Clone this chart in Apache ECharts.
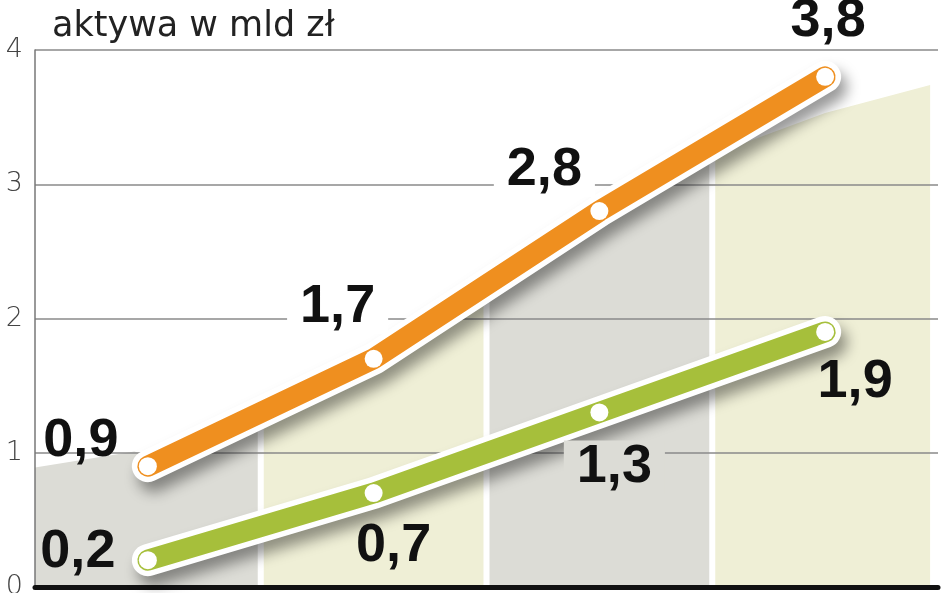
<!DOCTYPE html>
<html>
<head>
<meta charset="utf-8">
<script src="https://cdn.jsdelivr.net/npm/echarts@6/dist/echarts.min.js"></script>
<style>
  html, body { margin: 0; padding: 0; background: #ffffff; }
  #chart { width: 948px; height: 593px; }
</style>
</head>
<body>
<div id="chart"></div>
<script>
// ---- data ----
const titleText = 'aktywa w mld zł';
const categories = ['I', 'II', 'III', 'IV'];          // category labels are cropped off in the reference
const orangeValues = [0.9, 1.7, 2.8, 3.8];
const greenValues = [0.2, 0.7, 1.3, 1.9];
const yTickLabels = ['0', '1', '2', '3', '4'];
// background area: x in category units (0..4), top value
const bgX   = [0,    0.44, 0.5,  1,    1.5,  2,    2.5,  3,    3.5,  3.965];
const bgTop = [0.89, 1.01, 0.98, 1.22, 1.62, 2.17, 2.72, 3.22, 3.53, 3.74];

// ---- styles / layout ----
const bandColors = ['#dcdcd6', '#efefd6', '#dcdcd6', '#efefd6'];
const ORANGE = '#ef8f1f';
const GREEN = '#a6bf3b';
const orangeLabelOffsets = [[-67, -25], [-36, -52], [-55, -41], [3, -56]];
const greenLabelOffsets  = [[-70, -8], [20, 53], [15, 55], [30, 50]];
const orangeLabelBg = ['transparent', '#ffffff', '#ffffff', 'transparent'];
const greenLabelBg  = ['transparent', 'transparent', '#dcdcd6', 'transparent'];

const fmt = v => v.toFixed(1).replace('.', ',');

const bandSeries = [0, 1, 2, 3].map(k => ({
  type: 'line',
  xAxisIndex: 1,
  data: bgX.map((x, i) => [x, bgTop[i]]).filter(p => p[0] >= k && p[0] <= k + 1),
  showSymbol: false,
  symbol: 'none',
  lineStyle: { width: 0 },
  areaStyle: { color: bandColors[k], opacity: 1 },
  silent: true,
  z: 1
}));

const gapSeries = {
  type: 'bar',
  xAxisIndex: 1,
  data: [1, 2, 3].map(e => [e, bgTop[bgX.indexOf(e)]]),
  barWidth: 6,
  itemStyle: { color: '#ffffff' },
  silent: true,
  z: 2
};

const labelBase = {
  show: true,
  position: 'inside',
  fontFamily: '"Liberation Sans", Arial, sans-serif',
  fontWeight: 'bold',
  fontSize: 54,
  color: '#111111',
  padding: [0, 13],
  formatter: p => fmt(p.value)
};

function lineSeries(values, color, offsets, bgs) {
  return [
    {
      type: 'line',
      data: values,
      symbol: 'none',
      lineStyle: {
        width: 32, color: '#ffffff', cap: 'round', join: 'round',
        shadowColor: 'rgba(0,0,0,0.4)', shadowBlur: 14, shadowOffsetX: 6, shadowOffsetY: 10
      },
      silent: true,
      z: 4
    },
    {
      type: 'line',
      data: values.map((v, i) => ({
        value: v,
        label: Object.assign({}, labelBase, { offset: offsets[i], backgroundColor: bgs[i] })
      })),
      symbol: 'circle',
      symbolSize: 18,
      showAllSymbol: true,
      itemStyle: { color: '#ffffff', borderWidth: 0 },
      lineStyle: { width: 21, color: color, cap: 'round', join: 'round' },
      label: labelBase,
      silent: true,
      z: 5
    }
  ];
}

const chart = echarts.init(document.getElementById('chart'), null, { renderer: 'canvas' });
chart.setOption({
  animation: false,
  backgroundColor: '#ffffff',
  title: {
    text: titleText,
    left: 52,
    top: 9,
    padding: 0,
    textStyle: { fontFamily: '"DejaVu Sans", sans-serif', fontWeight: 'normal', fontSize: 35, color: '#222222' }
  },
  grid: { left: 35, right: 10, top: 50, bottom: 6, containLabel: false, outerBoundsMode: 'none' },
  xAxis: [
    {
      type: 'category',
      data: categories,
      boundaryGap: true,
      axisLine: { show: true, lineStyle: { color: '#111111', width: 5 } },
      axisTick: { show: false },
      axisLabel: { show: false },
      splitLine: { show: false },
      z: 3
    },
    {
      type: 'value',
      min: 0, max: 4,
      show: false
    }
  ],
  yAxis: {
    type: 'value',
    min: 0, max: 4, interval: 1,
    axisLine: { show: true, lineStyle: { color: '#777777', width: 1.5 } },
    axisTick: { show: false },
    axisLabel: {
      margin: 12,
      fontFamily: '"DejaVu Sans", sans-serif',
      fontWeight: 200,
      fontSize: 27,
      color: '#444444',
      formatter: v => yTickLabels[Math.round(v)]
    },
    splitLine: { show: true, lineStyle: { color: '#8a8a8a', width: 1.5 } },
    z: 3
  },
  series: [
    ...bandSeries,
    gapSeries,
    ...lineSeries(greenValues, GREEN, greenLabelOffsets, greenLabelBg),
    ...lineSeries(orangeValues, ORANGE, orangeLabelOffsets, orangeLabelBg)
  ]
});
</script>
</body>
</html>
